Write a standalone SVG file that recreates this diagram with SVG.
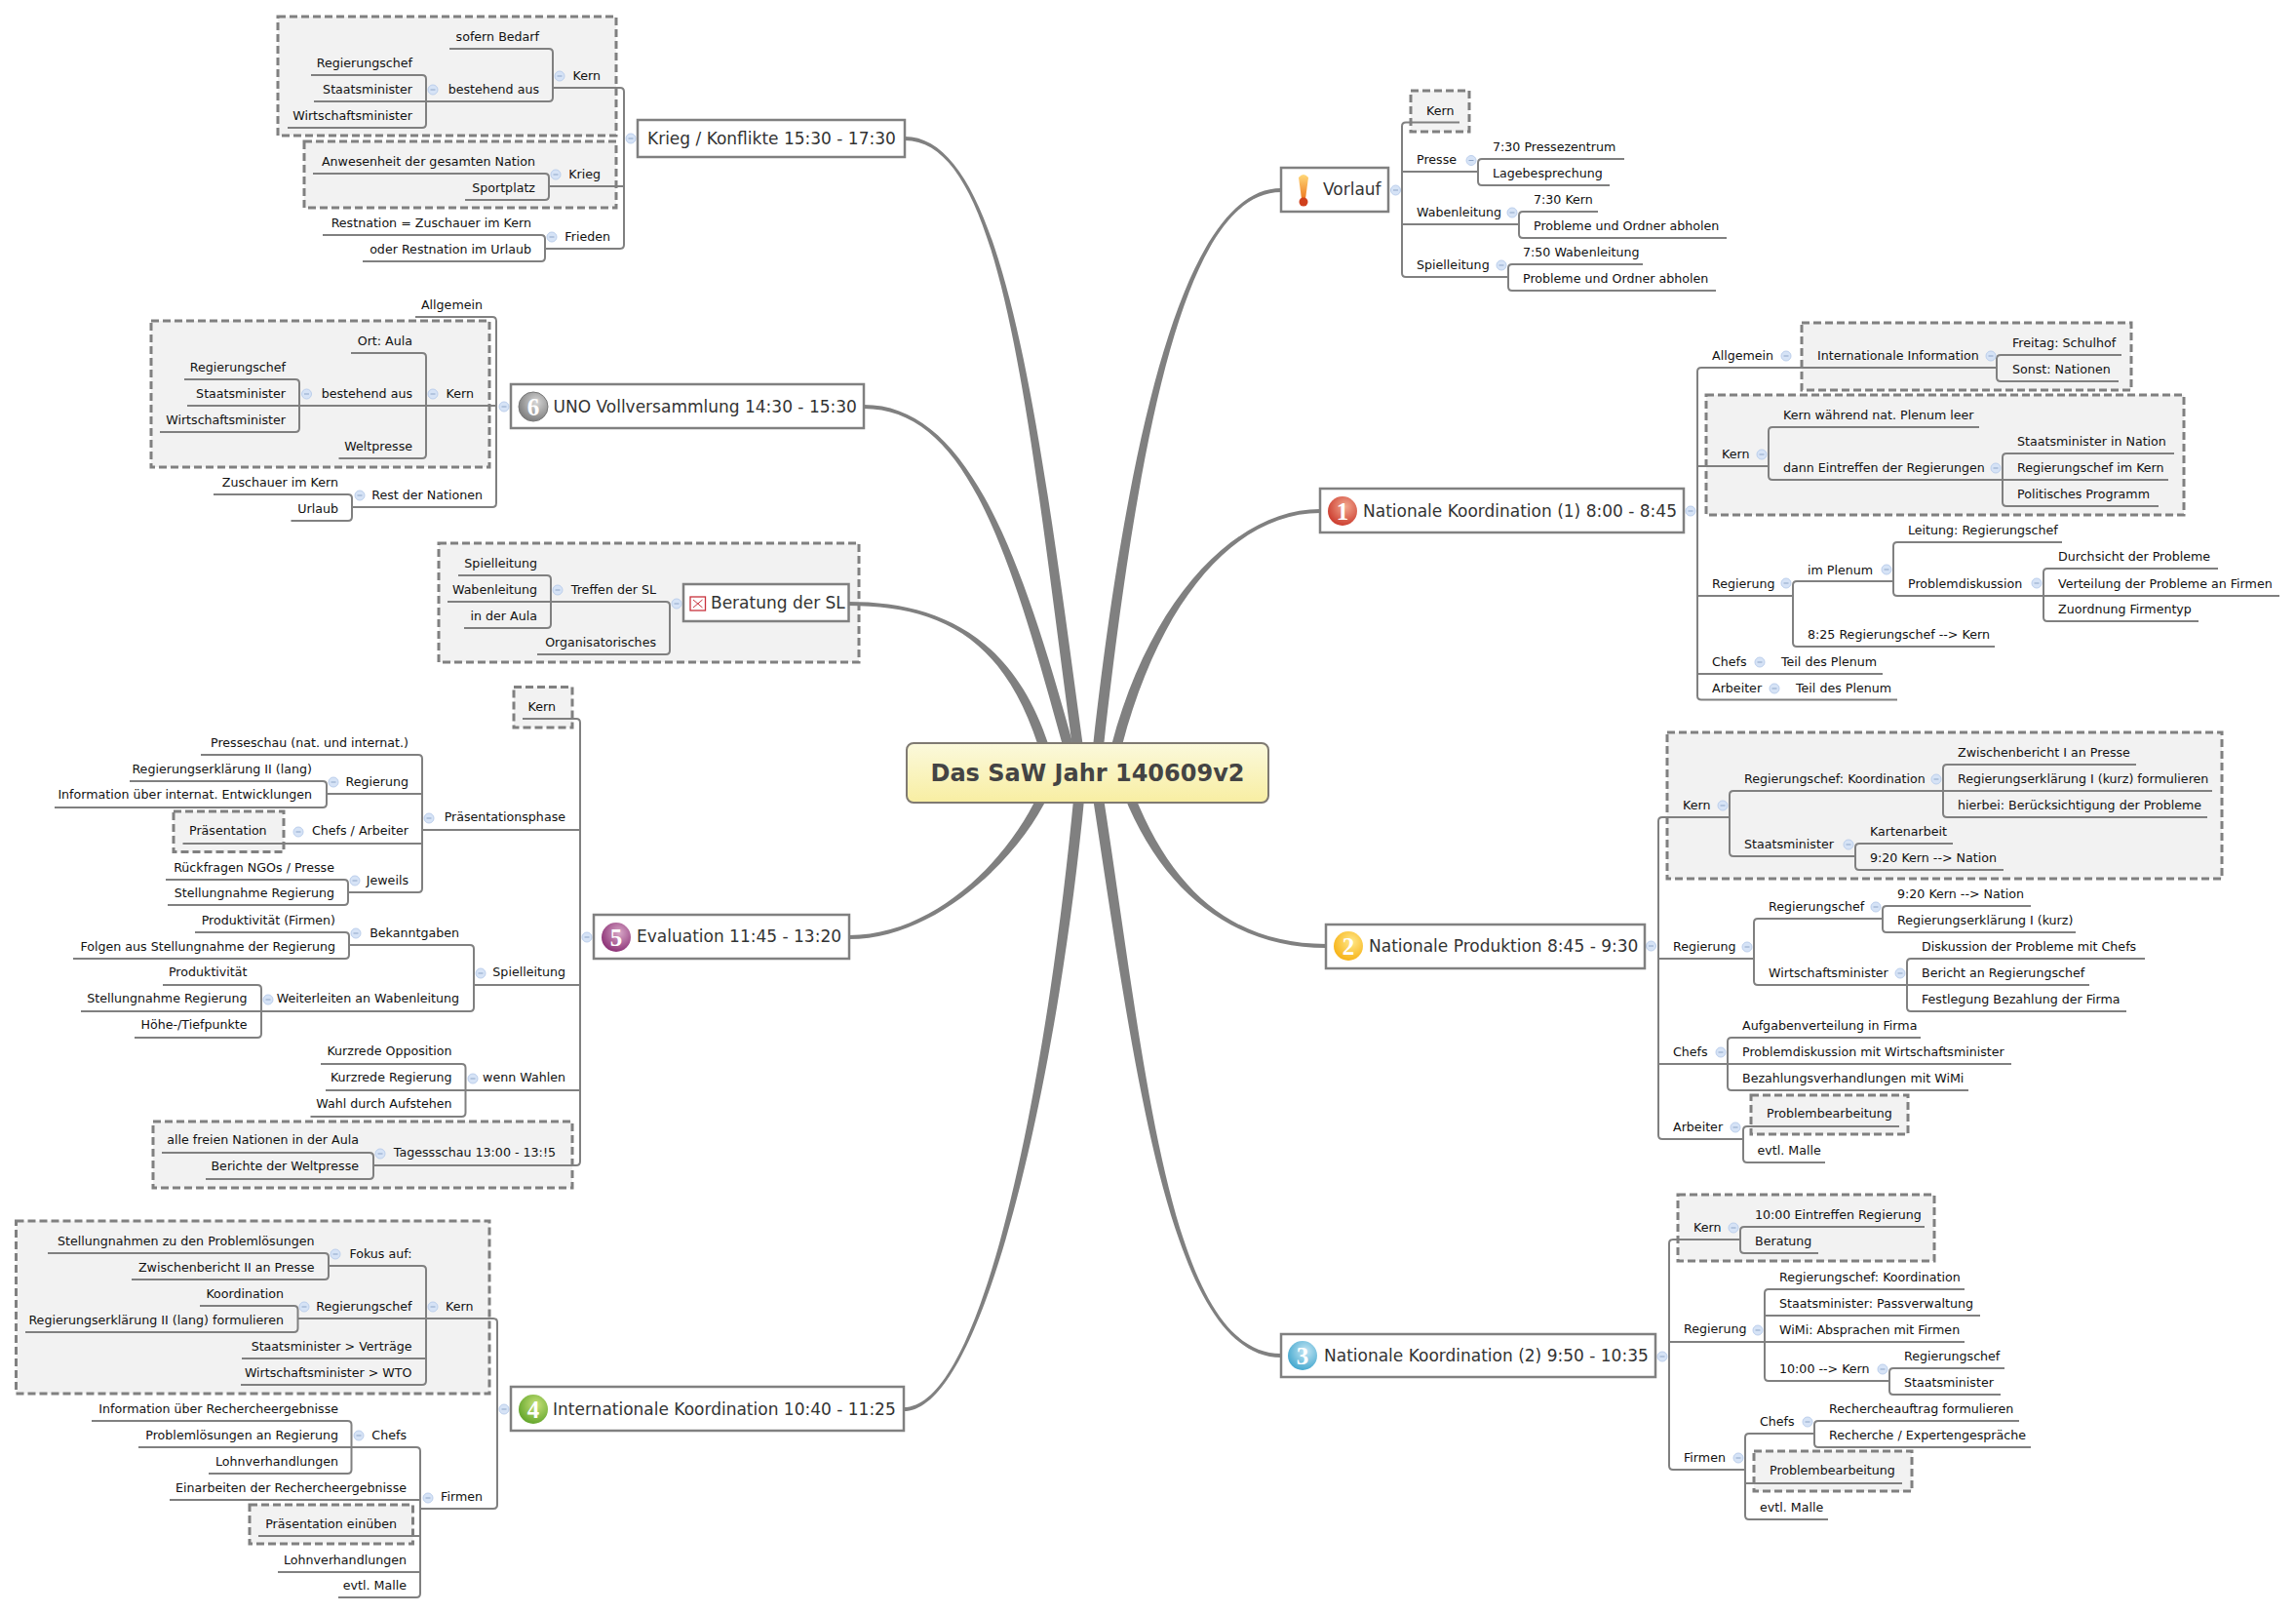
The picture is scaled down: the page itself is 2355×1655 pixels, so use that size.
<svg xmlns="http://www.w3.org/2000/svg" width="2355" height="1655" viewBox="0 0 2355 1655">
<style>
text{font-family:"DejaVu Sans",sans-serif;font-size:12.65px;fill:#111;transform:translateY(-.5px)}
.e{text-anchor:end}
.topic{font-size:17px;fill:#333}
.tb{fill:#fff;stroke:#808080;stroke-width:2.5}
.bd{fill:#f2f2f2;stroke:#808080;stroke-width:3;stroke-dasharray:8 4}
.ln{fill:none;stroke:#808080;stroke-width:2}
.cv{fill:#808080}
.num{font-family:"Liberation Serif",serif;font-weight:bold;font-size:25px;fill:#fff;text-anchor:middle}
</style>
<defs>
<linearGradient id="rootg" x1="0" y1="0" x2="0" y2="1"><stop offset="0" stop-color="#fbf9dc"/><stop offset="1" stop-color="#f8eea2"/></linearGradient>
<radialGradient id="i1" cx=".6" cy=".35" r=".8"><stop offset="0" stop-color="#f2a890"/><stop offset="1" stop-color="#c5281c"/></radialGradient>
<radialGradient id="i2" cx=".6" cy=".35" r=".8"><stop offset="0" stop-color="#ffe88a"/><stop offset="1" stop-color="#f5a800"/></radialGradient>
<radialGradient id="i3" cx=".6" cy=".35" r=".8"><stop offset="0" stop-color="#c4e6f4"/><stop offset="1" stop-color="#2c9cc8"/></radialGradient>
<radialGradient id="i4" cx=".6" cy=".35" r=".8"><stop offset="0" stop-color="#c8e27a"/><stop offset="1" stop-color="#4f9a1c"/></radialGradient>
<radialGradient id="i5" cx=".6" cy=".35" r=".8"><stop offset="0" stop-color="#d8a8c8"/><stop offset="1" stop-color="#7e1a66"/></radialGradient>
<radialGradient id="i6" cx=".6" cy=".35" r=".8"><stop offset="0" stop-color="#d8d8d8"/><stop offset="1" stop-color="#6a6a6a"/></radialGradient>
<linearGradient id="ex" x1="0" y1="0" x2="0" y2="1"><stop offset="0" stop-color="#ffd878"/><stop offset="1" stop-color="#ee7a20"/></linearGradient>
<g id="c"><circle r="5" fill="#d6e3f6" stroke="#bccfec" stroke-width="1"/><path d="M-2.5 0H2.5" stroke="#8fa6c8" stroke-width="1"/></g>
</defs>
<rect width="2355" height="1655" fill="#fff"/>

<g id="boundaries">
<rect class="bd" x="285" y="17" width="347" height="122"/>
<rect class="bd" x="312" y="145" width="320" height="68"/>
<rect class="bd" x="155" y="329" width="347" height="150"/>
<rect class="bd" x="450" y="557" width="431" height="122"/>
<rect class="bd" x="527" y="704.500" width="60" height="41.500"/>
<rect class="bd" x="178" y="832" width="113" height="41.500"/>
<rect class="bd" x="157" y="1150" width="430" height="68"/>
<rect class="bd" x="16.500" y="1252" width="485.500" height="177"/>
<rect class="bd" x="256" y="1543" width="167.500" height="40"/>
<rect class="bd" x="1447" y="93" width="60" height="42"/>
<rect class="bd" x="1848" y="331" width="338" height="69"/>
<rect class="bd" x="1750" y="405" width="490" height="123"/>
<rect class="bd" x="1710" y="751" width="569" height="150"/>
<rect class="bd" x="1796" y="1123" width="161" height="40"/>
<rect class="bd" x="1721" y="1225" width="263" height="68"/>
<rect class="bd" x="1799" y="1488" width="162" height="41"/>
</g>

<g id="connectors">
<g id="main-curves" class="cv">
<path d="M928 140C1030 140 1065.500 430 1111.500 770L1100.500 770C1054.500 430 1030 144 928 144Z"/>
<path d="M886 415C990 415 1045.500 560 1102.500 770L1091.500 770C1034.500 560 990 419 886 419Z"/>
<path d="M870 617C960 617 1040.500 650 1077.500 770L1066.500 770C1029.500 650 960 621 870 621Z"/>
<path d="M871 959C960 959 1034.500 880 1064.500 815L1075.500 815C1045.500 880 960 963 871 963Z"/>
<path d="M927 1443C1010 1443 1074.500 1100 1101.500 815L1112.500 815C1085.500 1100 1010 1447 927 1447Z"/>
<path d="M1314 193C1220 193 1159.500 420 1120.500 770L1131.500 770C1170.500 420 1220 197 1314 197Z"/>
<path d="M1354 522C1270 522 1179.500 610 1138.500 770L1149.500 770C1190.500 610 1270 526 1354 526Z"/>
<path d="M1360 968C1270 968 1205.500 920 1163.500 815L1152.500 815C1194.500 920 1270 972 1360 972Z"/>
<path d="M1314 1388C1200 1388 1175.500 1100 1131.500 815L1120.500 815C1164.500 1100 1200 1392 1314 1392Z"/>
</g>
<g class="ln">
<path d="M567 90H636q4 0 4 4V251q0 4-4 4H559M563 191H640M461 50H563q4 0 4 4V100q0 4-4 4H437M319 77H433q4 0 4 4V127q0 4-4 4H295M322 104H437M321 178H559q4 0 4 4V201q0 4-4 4H477M331 241H555q4 0 4 4V264q0 4-4 4H372"/>
<path d="M426 325H505q4 0 4 4V516q0 4-4 4H361M509 416H192M360 362H433q4 0 4 4V466q0 4-4 4H347.500M189 389H303q4 0 4 4V439q0 4-4 4H164M219 507H357q4 0 4 4V530q0 4-4 4H298.500"/>
<path d="M459 617H683q4 0 4 4V667q0 4-4 4H551M470 590H561q4 0 4 4V640q0 4-4 4H476"/>
<path d="M536 737H591q4 0 4 4V1191q0 4-4 4H383M595 851H433M595 1010H486M595 1118H334M206 774H429q4 0 4 4V911q0 4-4 4H357M433 814H335M433 865H187.500M133 801H331q4 0 4 4V824q0 4-4 4H56M170 902H353q4 0 4 4V924q0 4-4 4H172M358 969H482q4 0 4 4V1033q0 4-4 4H83M200 956H354q4 0 4 4V979q0 4-4 4H75M167 1010H264q4 0 4 4V1060q0 4-4 4H138M329 1091H473.500q4 0 4 4V1141q0 4-4 4H318.500M166 1182H379q4 0 4 4V1205q0 4-4 4H211"/>
<path d="M305.500 1352H506q4 0 4 4V1543q0 4-4 4H431M337 1298H433q4 0 4 4V1416q0 4-4 4H247M437 1393H248M49 1285H333q4 0 4 4V1308q0 4-4 4H135M205 1339H301.500q4 0 4 4V1362q0 4-4 4H26M360.500 1484H427q4 0 4 4V1634q0 4-4 4H347M431 1538H174M431 1575H265M431 1612H285M94 1457H356.500q4 0 4 4V1507q0 4-4 4H214M360.500 1484H142"/>
<path d="M1497 125.500H1442q-4 0-4 4V280q0 4 4 4H1547M1438 176H1516M1438 230H1558M1666 163H1520q-4 0-4 4V186q0 4 4 4H1651M1639 217H1562q-4 0-4 4V240q0 4 4 4H1771M1685 271H1551q-4 0-4 4V294q0 4 4 4H1760"/>
<path d="M2048 377H1745q-4 0-4 4V713.500q0 4 4 4H1946M1741 478H1814M1741 611H1839M1741 691H1931M2176 364H2052q-4 0-4 4V387q0 4 4 4H2173M2030 438H1818q-4 0-4 4V488q0 4 4 4H2054M2230 465H2058q-4 0-4 4V515q0 4 4 4H2214M2054 492H2224M1942 596H1843q-4 0-4 4V659q0 4 4 4H2046M2115 556H1946q-4 0-4 4V607q0 4 4 4H2096M2275 583H2100q-4 0-4 4V633q0 4 4 4H2255M2096 611H2338"/>
<path d="M1774 838H1705q-4 0-4 4V1164q0 4 4 4H1788M1701 983H1799M1701 1091H1772M1993 811H1778q-4 0-4 4V874q0 4 4 4H1903M2191 784H1997q-4 0-4 4V834q0 4 4 4H2264M1993 811H2269M2003 865H1907q-4 0-4 4V888q0 4 4 4H2055M1931 942H1803q-4 0-4 4V1006q0 4 4 4H1956M2083 929H1935q-4 0-4 4V952q0 4 4 4H2129M2200 983H1960q-4 0-4 4V1033q0 4 4 4H2181M1956 1010H2143M1970 1064H1776q-4 0-4 4V1114q0 4 4 4H2019M1772 1091H2063M1948 1155H1792q-4 0-4 4V1188q0 4 4 4H1872"/>
<path d="M1785 1271H1716q-4 0-4 4V1503q0 4 4 4H1790M1712 1376H1810M1974 1258H1789q-4 0-4 4V1281q0 4 4 4H1865M2015 1322H1814q-4 0-4 4V1412q0 4 4 4H1938M1810 1349H2031M1810 1376H2015M2056 1403H1942q-4 0-4 4V1426q0 4 4 4H2052M1861 1470H1794q-4 0-4 4V1554q0 4 4 4H1875M1790 1521H1951M2071 1457H1865q-4 0-4 4V1480q0 4 4 4H2083"/>
</g>
<g id="collapse" stroke="none">
<use href="#c" x="647" y="142"/><use href="#c" x="574" y="78"/><use href="#c" x="444" y="92"/><use href="#c" x="570" y="179"/><use href="#c" x="566" y="243"/>
<use href="#c" x="517" y="417"/><use href="#c" x="444" y="404"/><use href="#c" x="314.500" y="404"/><use href="#c" x="369" y="508"/>
<use href="#c" x="694" y="619"/><use href="#c" x="572" y="605"/>
<use href="#c" x="602" y="961"/><use href="#c" x="440" y="839"/><use href="#c" x="342" y="802"/><use href="#c" x="306" y="853"/><use href="#c" x="364" y="903"/><use href="#c" x="493" y="998"/><use href="#c" x="365" y="957"/><use href="#c" x="275" y="1025"/><use href="#c" x="485" y="1106"/><use href="#c" x="390" y="1183"/>
<use href="#c" x="517" y="1445"/><use href="#c" x="444" y="1340"/><use href="#c" x="344" y="1286"/><use href="#c" x="312" y="1340"/><use href="#c" x="439" y="1536"/><use href="#c" x="368" y="1472"/>
<use href="#c" x="1431.500" y="195"/><use href="#c" x="1509" y="164.500"/><use href="#c" x="1551" y="218"/><use href="#c" x="1540" y="272"/>
<use href="#c" x="1734" y="524"/><use href="#c" x="1832" y="365"/><use href="#c" x="2042" y="365"/><use href="#c" x="1807" y="466"/><use href="#c" x="2047" y="480"/><use href="#c" x="1832" y="598"/><use href="#c" x="1935" y="584"/><use href="#c" x="2089" y="598"/><use href="#c" x="1805" y="679"/><use href="#c" x="1820" y="706"/>
<use href="#c" x="1693.500" y="970"/><use href="#c" x="1767" y="826"/><use href="#c" x="1986" y="799"/><use href="#c" x="1896" y="866"/><use href="#c" x="1792" y="971"/><use href="#c" x="1924" y="930"/><use href="#c" x="1949" y="998"/><use href="#c" x="1765" y="1079"/><use href="#c" x="1780" y="1156"/>
<use href="#c" x="1705" y="1391"/><use href="#c" x="1778" y="1259"/><use href="#c" x="1803" y="1364"/><use href="#c" x="1931" y="1404"/><use href="#c" x="1783" y="1495"/><use href="#c" x="1854" y="1458"/>
</g>
</g>

<g id="root"><rect x="930" y="762" width="371" height="61" rx="7" fill="url(#rootg)" stroke="#7f7a72" stroke-width="2"/><text x="1115.500" y="801" text-anchor="middle" style="font-size:24px;font-weight:bold;fill:#444">Das SaW Jahr 140609v2</text></g>

<g id="t-krieg"><rect class="tb" x="654" y="123" width="274" height="38"/><text class="topic" x="664" y="148">Krieg / Konflikte 15:30 - 17:30</text></g>
<g id="t-uno"><rect class="tb" x="524" y="394" width="362" height="45"/><circle cx="547" cy="417" r="15" fill="url(#i6)" stroke="#777"/><text class="num" x="547" y="426">6</text><text class="topic" x="567.500" y="423">UNO Vollversammlung 14:30 - 15:30</text></g>
<g id="t-beratung"><rect class="tb" x="701" y="599" width="169.500" height="38"/><rect x="708" y="612" width="15.500" height="14" fill="#fff" stroke="#c8323c" stroke-width="1.300"/><path d="M711 615L720.500 623M720.500 615L711 623" stroke="#c8323c" stroke-width="1"/><text class="topic" x="729" y="624">Beratung der SL</text></g>
<g id="t-eval"><rect class="tb" x="609" y="938" width="262" height="45"/><circle cx="632" cy="961" r="15" fill="url(#i5)"/><text class="num" x="632" y="970">5</text><text class="topic" x="653" y="966">Evaluation 11:45 - 13:20</text></g>
<g id="t-int"><rect class="tb" x="524" y="1422" width="403" height="45"/><circle cx="547" cy="1445" r="15" fill="url(#i4)"/><text class="num" x="547" y="1454">4</text><text class="topic" x="567" y="1451">Internationale Koordination 10:40 - 11:25</text></g>
<g id="t-vorlauf"><rect class="tb" x="1314" y="172" width="110" height="45"/><path d="M1332 182Q1337 176 1342 182L1339 204H1335Z" fill="url(#ex)"/><circle cx="1337" cy="207" r="4.500" fill="#d0401c"/><text class="topic" x="1357" y="200" style="font-weight:500">Vorlauf</text></g>
<g id="t-nk1"><rect class="tb" x="1354" y="501" width="373" height="45"/><circle cx="1377" cy="524" r="15" fill="url(#i1)"/><text class="num" x="1377" y="533">1</text><text class="topic" x="1398" y="530">Nationale Koordination (1) 8:00 - 8:45</text></g>
<g id="t-np"><rect class="tb" x="1360" y="948" width="327" height="45"/><circle cx="1383" cy="970" r="15" fill="url(#i2)"/><text class="num" x="1383" y="979">2</text><text class="topic" x="1404" y="976">Nationale Produktion 8:45 - 9:30</text></g>
<g id="t-nk2"><rect class="tb" x="1314" y="1368" width="384" height="44"/><circle cx="1336" cy="1390" r="15" fill="url(#i3)"/><text class="num" x="1336" y="1399">3</text><text class="topic" x="1358" y="1396">Nationale Koordination (2) 9:50 - 10:35</text></g>

<g id="krieg-nodes">
<g id="k1"><text class="e" x="616" y="82">Kern</text></g>
<g id="k2"><text class="e" x="553" y="42">sofern Bedarf</text></g>
<g id="k3"><text class="e" x="553" y="96">bestehend aus</text></g>
<g id="k4"><text class="e" x="423" y="69">Regierungschef</text></g>
<g id="k5"><text class="e" x="423" y="96">Staatsminister</text></g>
<g id="k6"><text class="e" x="423" y="123">Wirtschaftsminister</text></g>
<g id="k7"><text class="e" x="616" y="183">Krieg</text></g>
<g id="k8"><text class="e" x="549" y="170">Anwesenheit der gesamten Nation</text></g>
<g id="k9"><text class="e" x="549" y="197">Sportplatz</text></g>
<g id="k10"><text class="e" x="626" y="247">Frieden</text></g>
<g id="k11"><text class="e" x="545" y="233">Restnation = Zuschauer im Kern</text></g>
<g id="k12"><text class="e" x="545" y="260">oder Restnation im Urlaub</text></g>
</g>
<g id="uno-nodes">
<g id="u1"><text class="e" x="495" y="317">Allgemein</text></g>
<g id="u2"><text class="e" x="486" y="408">Kern</text></g>
<g id="u3"><text class="e" x="423" y="354">Ort: Aula</text></g>
<g id="u4"><text class="e" x="423" y="408">bestehend aus</text></g>
<g id="u5"><text class="e" x="423" y="462">Weltpresse</text></g>
<g id="u6"><text class="e" x="293" y="381">Regierungschef</text></g>
<g id="u7"><text class="e" x="293" y="408">Staatsminister</text></g>
<g id="u8"><text class="e" x="293" y="435">Wirtschaftsminister</text></g>
<g id="u9"><text class="e" x="495" y="512">Rest der Nationen</text></g>
<g id="u10"><text class="e" x="347" y="499">Zuschauer im Kern</text></g>
<g id="u11"><text class="e" x="347" y="526">Urlaub</text></g>
</g>
<g id="beratung-nodes">
<g id="b1"><text class="e" x="673" y="609">Treffen der SL</text></g>
<g id="b2"><text class="e" x="673" y="663">Organisatorisches</text></g>
<g id="b3"><text class="e" x="551" y="582">Spielleitung</text></g>
<g id="b4"><text class="e" x="551" y="609">Wabenleitung</text></g>
<g id="b5"><text class="e" x="551" y="636">in der Aula</text></g>
</g>
<g id="eval-nodes">
<g id="e1"><text class="e" x="570" y="729">Kern</text></g>
<g id="e2"><text class="e" x="580" y="842">Präsentationsphase</text></g>
<g id="e3"><text class="e" x="419" y="766">Presseschau (nat. und internat.)</text></g>
<g id="e4"><text class="e" x="419" y="806">Regierung</text></g>
<g id="e5"><text class="e" x="320" y="793">Regierungserklärung II (lang)</text></g>
<g id="e6"><text class="e" x="320" y="819">Information über internat. Entwicklungen</text></g>
<g id="e7"><text class="e" x="419" y="856">Chefs / Arbeiter</text></g>
<g id="e8"><text x="194" y="856">Präsentation</text></g>
<g id="e9"><text class="e" x="419" y="907">Jeweils</text></g>
<g id="e10"><text class="e" x="343" y="894">Rückfragen NGOs / Presse</text></g>
<g id="e11"><text class="e" x="343" y="920">Stellungnahme Regierung</text></g>
<g id="e12"><text class="e" x="580" y="1001">Spielleitung</text></g>
<g id="e13"><text class="e" x="471" y="961">Bekanntgaben</text></g>
<g id="e14"><text class="e" x="344" y="948">Produktivität (Firmen)</text></g>
<g id="e15"><text class="e" x="344" y="975">Folgen aus Stellungnahme der Regierung</text></g>
<g id="e16"><text class="e" x="471" y="1028">Weiterleiten an Wabenleitung</text></g>
<g id="e17"><text class="e" x="253.500" y="1001">Produktivität</text></g>
<g id="e18"><text class="e" x="253.500" y="1028">Stellungnahme Regierung</text></g>
<g id="e19"><text class="e" x="253.500" y="1055">Höhe-/Tiefpunkte</text></g>
<g id="e20"><text class="e" x="580" y="1109">wenn Wahlen</text></g>
<g id="e21"><text class="e" x="463.500" y="1082">Kurzrede Opposition</text></g>
<g id="e22"><text class="e" x="463.500" y="1109">Kurzrede Regierung</text></g>
<g id="e23"><text class="e" x="463.500" y="1136">Wahl durch Aufstehen</text></g>
<g id="e24"><text class="e" x="570" y="1186">Tagessschau 13:00 - 13:!5</text></g>
<g id="e25"><text class="e" x="368" y="1173">alle freien Nationen in der Aula</text></g>
<g id="e26"><text class="e" x="368" y="1200">Berichte der Weltpresse</text></g>
</g>
<g id="int-nodes">
<g id="i-1"><text class="e" x="485.500" y="1344">Kern</text></g>
<g id="i-2"><text class="e" x="422.500" y="1290">Fokus auf:</text></g>
<g id="i-3"><text class="e" x="322.500" y="1277">Stellungnahmen zu den Problemlösungen</text></g>
<g id="i-4"><text class="e" x="322.500" y="1304">Zwischenbericht II an Presse</text></g>
<g id="i-5"><text class="e" x="422.500" y="1344">Regierungschef</text></g>
<g id="i-6"><text class="e" x="291" y="1331">Koordination</text></g>
<g id="i-7"><text class="e" x="291" y="1358">Regierungserklärung II (lang) formulieren</text></g>
<g id="i-8"><text class="e" x="422.500" y="1385">Staatsminister &gt; Verträge</text></g>
<g id="i-9"><text class="e" x="422.500" y="1412">Wirtschaftsminister &gt; WTO</text></g>
<g id="i-10"><text class="e" x="495" y="1539">Firmen</text></g>
<g id="i-11"><text class="e" x="417" y="1476">Chefs</text></g>
<g id="i-12"><text class="e" x="347" y="1449">Information über Rechercheergebnisse</text></g>
<g id="i-13"><text class="e" x="347" y="1476">Problemlösungen an Regierung</text></g>
<g id="i-14"><text class="e" x="347" y="1503">Lohnverhandlungen</text></g>
<g id="i-15"><text class="e" x="417" y="1530">Einarbeiten der Rechercheergebnisse</text></g>
<g id="i-16"><text class="e" x="407" y="1567">Präsentation einüben</text></g>
<g id="i-17"><text class="e" x="417" y="1604">Lohnverhandlungen</text></g>
<g id="i-18"><text class="e" x="417" y="1630">evtl. Malle</text></g>
</g>
<g id="vorlauf-nodes">
<g id="v1"><text x="1463" y="118">Kern</text></g>
<g id="v2"><text x="1453" y="168">Presse</text></g>
<g id="v3"><text x="1531" y="155">7:30 Pressezentrum</text></g>
<g id="v4"><text x="1531" y="182">Lagebesprechung</text></g>
<g id="v5"><text x="1453" y="222">Wabenleitung</text></g>
<g id="v6"><text x="1573" y="209">7:30 Kern</text></g>
<g id="v7"><text x="1573" y="236">Probleme und Ordner abholen</text></g>
<g id="v8"><text x="1453" y="276">Spielleitung</text></g>
<g id="v9"><text x="1562" y="263">7:50 Wabenleitung</text></g>
<g id="v10"><text x="1562" y="290">Probleme und Ordner abholen</text></g>
</g>
<g id="nk1-nodes">
<g id="a1"><text x="1756" y="369">Allgemein</text></g>
<g id="a2"><text x="1864" y="369">Internationale Information</text></g>
<g id="a3"><text x="2064" y="356">Freitag: Schulhof</text></g>
<g id="a4"><text x="2064" y="383">Sonst: Nationen</text></g>
<g id="a5"><text x="1766" y="470">Kern</text></g>
<g id="a6"><text x="1829" y="430">Kern während nat. Plenum leer</text></g>
<g id="a7"><text x="1829" y="484">dann Eintreffen der Regierungen</text></g>
<g id="a8"><text x="2069" y="457">Staatsminister in Nation</text></g>
<g id="a9"><text x="2069" y="484">Regierungschef im Kern</text></g>
<g id="a10"><text x="2069" y="511">Politisches Programm</text></g>
<g id="a11"><text x="1756" y="603">Regierung</text></g>
<g id="a12"><text x="1854" y="589">im Plenum</text></g>
<g id="a13"><text x="1854" y="655">8:25 Regierungschef --&gt; Kern</text></g>
<g id="a14"><text x="1957" y="548">Leitung: Regierungschef</text></g>
<g id="a15"><text x="1957" y="603">Problemdiskussion</text></g>
<g id="a16"><text x="2111" y="575">Durchsicht der Probleme</text></g>
<g id="a17"><text x="2111" y="603">Verteilung der Probleme an Firmen</text></g>
<g id="a18"><text x="2111" y="629">Zuordnung Firmentyp</text></g>
<g id="a19"><text x="1756" y="683">Chefs</text></g>
<g id="a20"><text x="1827" y="683">Teil des Plenum</text></g>
<g id="a21"><text x="1756" y="710">Arbeiter</text></g>
<g id="a22"><text x="1842" y="710">Teil des Plenum</text></g>
</g>
<g id="np-nodes">
<g id="p1"><text x="1726" y="830">Kern</text></g>
<g id="p2"><text x="1789" y="803">Regierungschef: Koordination</text></g>
<g id="p3"><text x="2008" y="776">Zwischenbericht I an Presse</text></g>
<g id="p4"><text x="2008" y="803">Regierungserklärung I (kurz) formulieren</text></g>
<g id="p5"><text x="2008" y="830">hierbei: Berücksichtigung der Probleme</text></g>
<g id="p6"><text x="1789" y="870">Staatsminister</text></g>
<g id="p7"><text x="1918" y="857">Kartenarbeit</text></g>
<g id="p8"><text x="1918" y="884">9:20 Kern --&gt; Nation</text></g>
<g id="p9"><text x="1716" y="975">Regierung</text></g>
<g id="p10"><text x="1814" y="934">Regierungschef</text></g>
<g id="p11"><text x="1946" y="921">9:20 Kern --&gt; Nation</text></g>
<g id="p12"><text x="1946" y="948">Regierungserklärung I (kurz)</text></g>
<g id="p13"><text x="1814" y="1002">Wirtschaftsminister</text></g>
<g id="p14"><text x="1971" y="975">Diskussion der Probleme mit Chefs</text></g>
<g id="p15"><text x="1971" y="1002">Bericht an Regierungschef</text></g>
<g id="p16"><text x="1971" y="1029">Festlegung Bezahlung der Firma</text></g>
<g id="p17"><text x="1716" y="1083">Chefs</text></g>
<g id="p18"><text x="1787" y="1056">Aufgabenverteilung in Firma</text></g>
<g id="p19"><text x="1787" y="1083">Problemdiskussion mit Wirtschaftsminister</text></g>
<g id="p20"><text x="1787" y="1110">Bezahlungsverhandlungen mit WiMi</text></g>
<g id="p21"><text x="1716" y="1160">Arbeiter</text></g>
<g id="p22"><text x="1812" y="1146">Problembearbeitung</text></g>
<g id="p23"><text x="1802.500" y="1184">evtl. Malle</text></g>
</g>
<g id="nk2-nodes">
<g id="q1"><text x="1737" y="1263">Kern</text></g>
<g id="q2"><text x="1800" y="1250">10:00 Eintreffen Regierung</text></g>
<g id="q3"><text x="1800" y="1277">Beratung</text></g>
<g id="q4"><text x="1727" y="1367">Regierung</text></g>
<g id="q5"><text x="1825" y="1314">Regierungschef: Koordination</text></g>
<g id="q6"><text x="1825" y="1341">Staatsminister: Passverwaltung</text></g>
<g id="q7"><text x="1825" y="1368">WiMi: Absprachen mit Firmen</text></g>
<g id="q8"><text x="1825" y="1408">10:00 --&gt; Kern</text></g>
<g id="q9"><text x="1953" y="1395">Regierungschef</text></g>
<g id="q10"><text x="1953" y="1422">Staatsminister</text></g>
<g id="q11"><text x="1727" y="1499">Firmen</text></g>
<g id="q12"><text x="1805" y="1462">Chefs</text></g>
<g id="q13"><text x="1876" y="1449">Rechercheauftrag formulieren</text></g>
<g id="q14"><text x="1876" y="1476">Recherche / Expertengespräche</text></g>
<g id="q15"><text x="1815" y="1512">Problembearbeitung</text></g>
<g id="q16"><text x="1805" y="1550">evtl. Malle</text></g>
</g>
</svg>
